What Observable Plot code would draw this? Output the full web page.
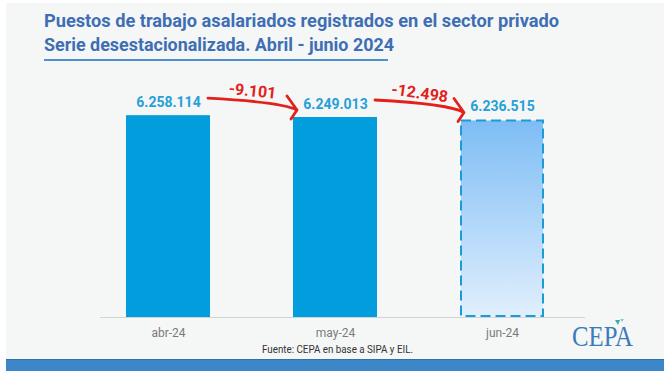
<!DOCTYPE html>
<html><head><meta charset="utf-8">
<script src="https://cdn.jsdelivr.net/npm/d3@7"></script>
<script src="https://cdn.jsdelivr.net/npm/@observablehq/plot@0.6"></script>
<style>
html,body{margin:0;padding:0;background:#fff;}
#wrap{position:relative;width:670px;height:378px;overflow:hidden;background:#fff;font-family:Roboto,sans-serif;}
#bg{position:absolute;left:6px;top:3px;width:658px;height:356px;background:#f5f7f6;}
#band{position:absolute;left:6px;top:359px;width:658px;height:11px;background:#3d87c8;border-top:1px solid #3370a8;}
.tl{position:absolute;left:44px;font-weight:700;font-size:18px;line-height:24px;color:#3e6eb4;white-space:nowrap;transform-origin:0 0;}
#rule{position:absolute;left:44px;top:59px;width:344px;height:2px;background:#4f8fcb;}
#src{position:absolute;top:343px;font-size:10.5px;line-height:14px;color:#333;white-space:nowrap;transform-origin:0 0;}
#logo{position:absolute;left:572px;top:319px;font-family:"Liberation Serif",serif;font-size:30px;line-height:34px;color:#3d7ab9;white-space:nowrap;transform-origin:0 0;}
#plot{position:absolute;left:0;top:0;}
</style></head>
<body>
<div id="wrap">
  <div id="bg"></div>
  <div id="band"></div>
  <div class="tl" id="t1" style="top:9px">Puestos de trabajo asalariados registrados en el sector privado</div>
  <div class="tl" id="t2" style="top:33px">Serie desestacionalizada. Abril - junio 2024</div>
  <div id="rule"></div>
  <div id="src">Fuente: CEPA en base a SIPA y EIL.</div>
  <div id="logo">CEPA</div>
  <svg id="deco" style="position:absolute;left:614px;top:318px" width="12" height="9">
    <polygon points="1,2 6,2 4,7" fill="#3aa9a8"/>
    <polygon points="6,1 10,1 8,4" fill="#7ccfd0"/>
  </svg>
  <div id="plot"></div>
</div>
<script>
const months = ["abr-24", "may-24", "jun-24"];
const jobs = [6258114, 6249013, 6236515];
const provisional = [false, false, true];

const yBase = 5245000;
const yTop = 6500000;

const loc = d3.formatLocale({decimal: ",", thousands: ".", grouping: [3], currency: ["$", ""], minus: "-"});
const fmt = loc.format(",d");

const data = months.map((m, i) => ({month: m, value: jobs[i], proj: provisional[i]}));

const defsMark = () => {
  const defs = d3.create("svg:defs");
  const g = defs.append("linearGradient").attr("id", "jg").attr("x1", 0).attr("y1", 0).attr("x2", 0).attr("y2", 1);
  g.append("stop").attr("offset", "0%").attr("stop-color", "#7dbdf5");
  g.append("stop").attr("offset", "100%").attr("stop-color", "#e0effd");
  return defs.node();
};

const arrowsMark = (index, scales) => {
  const x = scales.x, y = scales.y, bw = x.bandwidth();
  const g = d3.create("svg:g");
  const rot = [6, 8];
  for (let i = 0; i < months.length - 1; i++) {
    const xa = x(months[i]) + bw / 2, ya = y(jobs[i]) - 13;
    const xb = x(months[i + 1]) + bw / 2, yb = y(jobs[i + 1]) - 13;
    const s = [xa + 40, ya - 4], t = [xb - 38, yb + 6];
    const c = [t[0] - 14, s[1] + 4];
    const p = d3.path();
    p.moveTo(s[0], s[1]);
    p.quadraticCurveTo(c[0], c[1], t[0], t[1]);
    p.moveTo(t[0] - 10, t[1] - 14);
    p.lineTo(t[0], t[1]);
    p.lineTo(t[0] - 6, t[1] + 9);
    g.append("path").attr("d", p.toString()).attr("fill", "none")
      .attr("stroke", "#e3211c").attr("stroke-width", 2.8)
      .attr("stroke-linecap", "round").attr("stroke-linejoin", "round");
    const mx = (s[0] + t[0]) / 2, my = (s[1] + t[1]) / 2 - 12;
    g.append("text").attr("x", mx).attr("y", my)
      .attr("transform", `rotate(${rot[i]},${mx},${my})`)
      .attr("text-anchor", "middle").attr("dominant-baseline", "middle")
      .attr("font-family", "Roboto").attr("font-weight", 700).attr("font-size", 16)
      .attr("fill", "#e3211c")
      .text(fmt(jobs[i + 1] - jobs[i]));
  }
  return g.node();
};

const chart = Plot.plot({
  width: 670,
  height: 378,
  marginTop: 67,
  marginBottom: 61,
  marginLeft: 100,
  marginRight: 85,
  style: {background: "transparent", overflow: "visible", fontFamily: "Roboto"},
  x: {domain: months, paddingInner: 0.5, paddingOuter: 0.197, align: 0.379},
  y: {domain: [yBase, yTop], axis: null},
  marks: [
    defsMark,
    Plot.barY(data.filter(d => !d.proj), {x: "month", y1: d => yBase, y2: "value", fill: "#019ddc"}),
    Plot.barY(data.filter(d => d.proj), {x: "month", y1: d => yBase, y2: "value", fill: "url(#jg)",
      stroke: "#1b9cd8", strokeWidth: 2, strokeDasharray: "10,5", inset: 1}),
    Plot.ruleY([yBase], {stroke: "#d2d4d3", strokeWidth: 1}),
    Plot.axisX({tickSize: 0, tickPadding: 11, fontSize: 12, fill: "#7a7a7a", label: null}),
    Plot.text(data, {x: "month", y: "value", text: d => fmt(d.value), dy: -13,
      fill: "#25a0d8", fontWeight: 700, fontSize: 14, lineAnchor: "middle"}),
    arrowsMark
  ]
});
document.getElementById("plot").appendChild(chart);

function fitW(id, target) {
  const el = document.getElementById(id);
  el.style.transform = "none";
  const w = el.getBoundingClientRect().width;
  el.style.transform = `scaleX(${target / w})`;
}
function fit() {
  fitW("t1", 515);
  fitW("t2", 350);
  const src = document.getElementById("src");
  src.style.left = (337 - 151 / 2) + "px";
  fitW("src", 151);
  fitW("logo", 61);
}
fit();
if (document.fonts && document.fonts.ready) document.fonts.ready.then(fit);
</script>
</body></html>
